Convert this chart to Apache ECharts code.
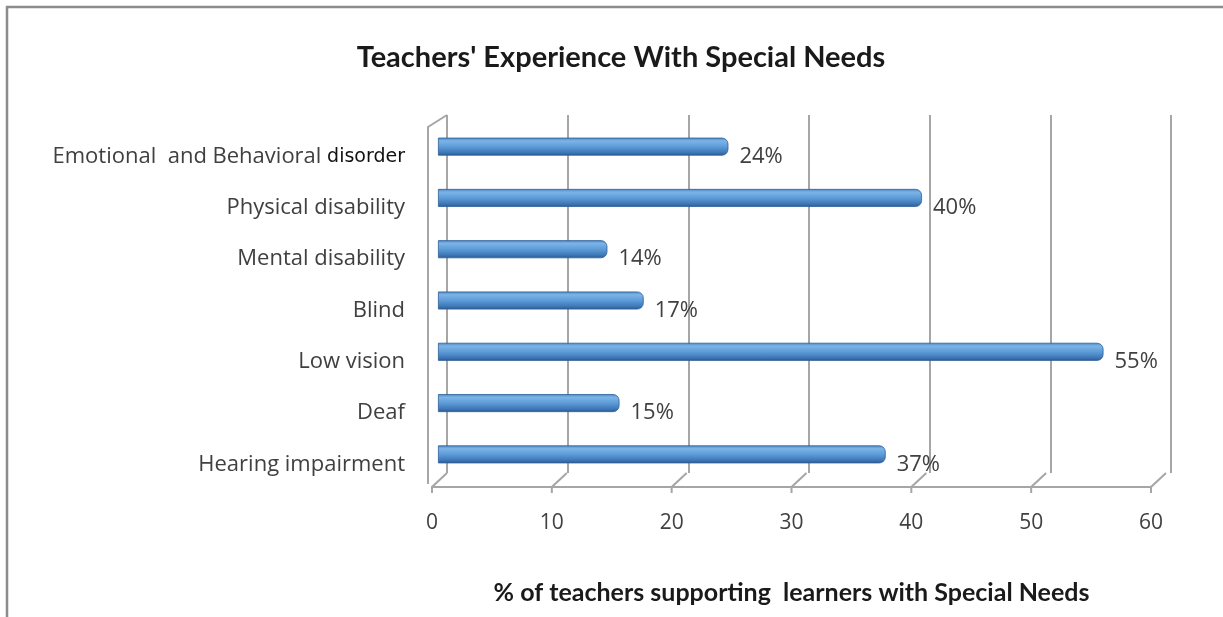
<!DOCTYPE html>
<html>
<head>
<meta charset="utf-8">
<script src="https://cdn.jsdelivr.net/npm/echarts@6/dist/echarts.min.js"></script>
<style>
  html, body { margin: 0; padding: 0; background: #ffffff; }
  #chart { width: 1223px; height: 617px; }
</style>
</head>
<body>
<div id="chart"></div>
<script>
// Categories, top to bottom
const categories = [
  'Emotional  and Behavioral disorder',
  'Physical disability',
  'Mental disability',
  'Blind',
  'Low vision',
  'Deaf',
  'Hearing impairment'
];
// % of teachers supporting learners in each category
const values = [24, 40, 14, 17, 55, 15, 37];
// Value axis ticks
const axisTicks = [0, 10, 20, 30, 40, 50, 60];

const chart = echarts.init(document.getElementById('chart'));

const bodyFont = '"Open Sans", Lato, sans-serif';
const headFont = 'Lato, "Open Sans", sans-serif';
const textGray = '#404040';
const wallGray = '#a6a6a6';

chart.setOption({
  backgroundColor: '#ffffff',
  animation: false,
  title: {
    text: "Teachers' Experience With Special Needs",
    left: 616,
    top: 38,
    textAlign: 'center',
    textStyle: { fontFamily: headFont, fontWeight: 'bold', fontSize: 29, color: '#1a1a1a' }
  },
  graphic: [{
    type: 'rect',
    shape: { x: 7, y: 7, width: 1400, height: 800 },
    style: { fill: 'none', stroke: '#8c8c8c', lineWidth: 2.5 },
    silent: true
  }],
  grid: [
    // back wall with the vertical gridlines
    { left: 447, right: 52, top: 115, bottom: 144 },
    // bars
    { left: 438, right: 59, top: 121, bottom: 137 },
    // front floor edge with the tick labels
    { left: 432, right: 72, top: 121, bottom: 130 }
  ],
  xAxis: [
    {
      gridIndex: 0, type: 'value', min: 0, max: 60, interval: 10,
      axisLine: { show: false }, axisTick: { show: false }, axisLabel: { show: false },
      splitLine: { show: true, lineStyle: { color: wallGray, width: 2 } }
    },
    {
      gridIndex: 1, type: 'value', min: 0, max: 60, interval: 10,
      show: false
    },
    {
      gridIndex: 2, type: 'value', min: 0, max: 60, interval: 10,
      axisLine: { show: true, lineStyle: { color: wallGray, width: 2 } },
      axisTick: { show: false },
      splitLine: { show: false },
      axisLabel: {
        margin: 26, fontFamily: bodyFont, fontSize: 21, color: textGray,
        formatter: v => axisTicks.includes(v) ? String(v) : ''
      },
      name: '% of teachers supporting  learners with Special Needs',
      nameLocation: 'middle',
      nameGap: 93,
      nameTextStyle: { fontFamily: headFont, fontWeight: 'bold', fontSize: 25, color: '#1a1a1a' }
    }
  ],
  yAxis: [
    { gridIndex: 0, type: 'value', min: 0, max: 1, show: false },
    {
      gridIndex: 1, type: 'category', data: categories, inverse: true,
      axisLine: { show: false }, axisTick: { show: false }, splitLine: { show: false },
      axisLabel: {
        margin: 33,
        padding: [20, 0, 0, 0],
        fontFamily: bodyFont, fontSize: 22, color: textGray,
        formatter: function (v) {
          const i = v.lastIndexOf(' disorder');
          if (i >= 0) return v.slice(0, i) + ' {d|disorder}';
          return v;
        },
        rich: {
          d: { fontFamily: '"DejaVu Sans", sans-serif', fontSize: 19, color: '#111111' }
        }
      }
    },
    { gridIndex: 2, type: 'value', min: 0, max: 1, show: false }
  ],
  series: [
    {
      type: 'bar',
      xAxisIndex: 1, yAxisIndex: 1,
      data: values,
      barWidth: 18,
      itemStyle: {
        borderRadius: [0, 6, 6, 0],
        borderColor: '#2f6099',
        borderWidth: 0.8,
        color: new echarts.graphic.LinearGradient(0, 0, 0, 1, [
          { offset: 0, color: '#4a85c2' },
          { offset: 0.18, color: '#7cb4e6' },
          { offset: 0.5, color: '#5d9cd8' },
          { offset: 0.82, color: '#3f78b8' },
          { offset: 1, color: '#2a5a8f' }
        ])
      },
      label: {
        show: true,
        position: 'right',
        distance: 11,
        offset: [0, 10],
        formatter: '{c}%',
        fontFamily: bodyFont, fontSize: 22, color: textGray
      }
    },
    {
      // slanted floor ticks joining the back gridlines to the front edge, plus the side wall
      type: 'custom',
      xAxisIndex: 2, yAxisIndex: 2,
      silent: true,
      data: axisTicks,
      renderItem: function (params, api) {
        const v = api.value(0);
        const p = api.coord([v, 0]);
        const children = [{
          type: 'polyline',
          shape: { points: [[p[0] + 15, p[1] - 14], [p[0], p[1]], [p[0], p[1] + 6]] },
          style: { stroke: wallGray, lineWidth: 2, fill: 'none' }
        }];
        if (v === 0) {
          children.push({
            type: 'polyline',
            shape: { points: [[p[0] + 15, 115], [p[0] - 4, 127], [p[0] - 4, p[1] - 3]] },
            style: { stroke: wallGray, lineWidth: 2, fill: 'none' }
          });
        }
        return { type: 'group', children: children };
      }
    }
  ]
});
</script>
</body>
</html>
